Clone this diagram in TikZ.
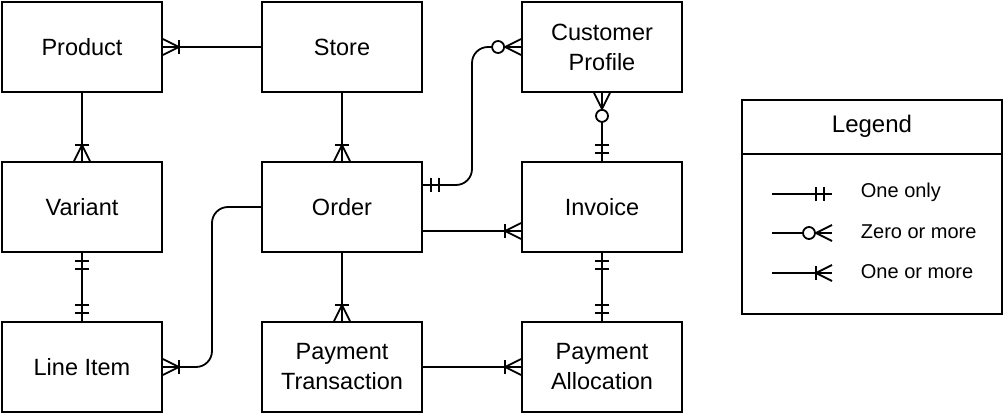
\documentclass[tikz,border=0pt]{standalone}
\usepackage{fontspec}
\setmainfont{Liberation Sans}
\usetikzlibrary{calc}
% crow's foot marks, drawn at a box anchor, pointing along the line
\def\manymark#1#2{\begin{scope}[shift={(#1)},rotate=#2]\draw (0,8) -- (16,0) -- (0,-8); \draw (16,7) -- (16,-7);\end{scope}}
\def\zeromark#1#2{\begin{scope}[shift={(#1)},rotate=#2]\draw (0,8) -- (16,0) -- (0,-8); \draw[fill=white] (23,0) circle (6pt);\end{scope}}
\def\onlymark#1#2{\begin{scope}[shift={(#1)},rotate=#2]\draw (8,7) -- (8,-7); \draw (16,7) -- (16,-7);\end{scope}}
\tikzset{
	entity/.style={draw, minimum width=160pt, minimum height=90pt, align=center, font=\fontsize{23.5}{30}\selectfont},
	legendtext/.style={anchor=west, inner sep=0pt, font=\fontsize{20}{24}\selectfont}
}

\begin{document}
\begin{tikzpicture}[x=1pt, y=-1pt, line width=1.8pt]
			%%%%% START %%%%%
			\useasboundingbox (0,0) rectangle (1004,417);
			
			\node[entity] (product) at (82, 47) {Product};
			\node[entity] (store) at (342, 47) {Store};
			\node[entity] (profile) at (602, 47) {Customer\\Profile};
			
			\node[entity] (variant) at (82, 207) {Variant};
			\node[entity] (order) at (342, 207) {Order};
			\node[entity] (invoice) at (602, 207) {Invoice};
			
			\node[entity] (item) at (82, 367) {Line Item};
			\node[entity] (transaction) at (342, 367) {Payment\\Transaction};
			\node[entity] (allocation) at (602, 367) {Payment\\Allocation};
			
			\draw (store.west) -- (product.east);
			\manymark{product.east}{0}
			
			\draw (product.south) -- (variant.north);
			\manymark{variant.north}{90}
			
			\draw (variant.south) -- (item.north);
			\onlymark{variant.south}{-90}
			\onlymark{item.north}{90}
			
			\draw (store.south) -- (order.north);
			\manymark{order.north}{90}
			
			\draw (order.south) -- (transaction.north);
			\manymark{transaction.north}{90}
			
			\draw (transaction.east) -- (allocation.west);
			\manymark{allocation.west}{180}
			
			\draw (invoice.south) -- (allocation.north);
			\onlymark{invoice.south}{-90}
			\onlymark{allocation.north}{90}
			
			\draw (profile.south) -- (invoice.north);
			\zeromark{profile.south}{-90}
			\onlymark{invoice.north}{90}
			
			\draw ([yshift=-24pt]order.east) -- ([yshift=-24pt]invoice.west);
			\manymark{[yshift=-24pt]invoice.west}{180}
			
			\draw[rounded corners=16pt] ([yshift=22pt]order.east) -| ($(order.east)!0.5!(profile.west)$) |- (profile.west);
			\onlymark{[yshift=22pt]order.east}{0}
			\zeromark{profile.west}{180}
			
			\draw[rounded corners=16pt] (order.west) -| ($(order.west)!0.5!(item.east)$) |- (item.east);
			\manymark{item.east}{0}
			
			% legend
			\node[draw, minimum width=260pt, minimum height=214pt] (legend) at (872, 207) {};
			\draw ($(legend.north west)+(0,55)$) -- ($(legend.north east)+(0,55)$);
			\node[font=\fontsize{24}{28}\selectfont] (legendhead) at (872, 126) {Legend};
			
			\coordinate (one a) at (772, 194);
			\coordinate (one b) at (832, 194);
			\coordinate (zero a) at (772, 233);
			\coordinate (zero b) at (832, 233);
			\coordinate (many a) at (772, 273);
			\coordinate (many b) at (832, 273);
			
			\draw (one a) -- (one b);
			\onlymark{one b}{180}
			\draw (zero a) -- (zero b);
			\zeromark{zero b}{180}
			\draw (many a) -- (many b);
			\manymark{many b}{180}
			
			\node[legendtext] (one text) at (860, 192) {One only};
			\node[legendtext] (zero text) at (860, 232) {Zero or more};
			\node[legendtext] (many text) at (860, 272) {One or more};
			%%%%% END %%%%%
\end{tikzpicture}
\end{document}
